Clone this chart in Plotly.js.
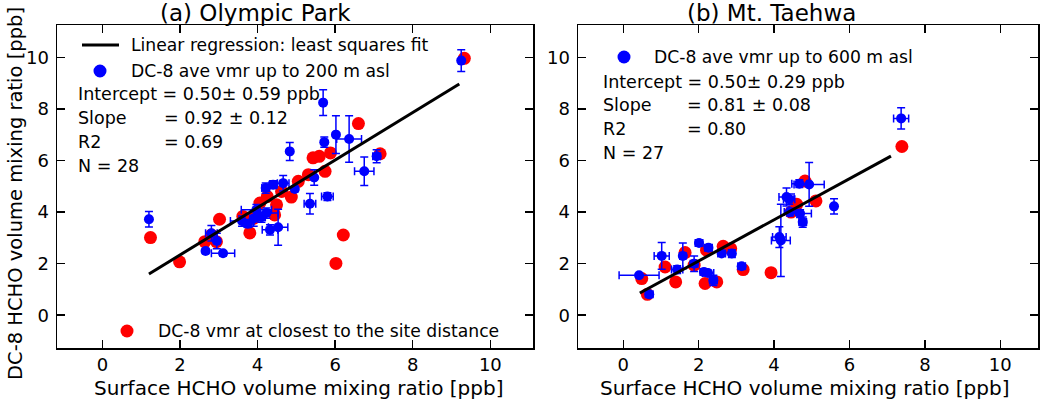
<!DOCTYPE html>
<html>
<head>
<meta charset="utf-8">
<script src="https://cdn.plot.ly/plotly-3.0.1.min.js"></script>
<style>html,body{margin:0;padding:0;background:#fff;}#chart{width:1050px;height:400px;}</style>
</head>
<body>
<div id="chart"></div>
<script>
// ---------- (a) Olympic Park ----------
const redX_a = [1.24, 1.99, 2.64, 2.81, 2.94, 3.02, 3.62, 3.80, 3.90, 4.06, 4.44, 4.49, 4.62, 4.87, 5.05, 5.31, 5.43, 5.59, 5.74, 5.88, 6.60, 7.16, 6.21, 6.02, 9.33, 4.25];
const redY_a = [3.01, 2.07, 2.85, 3.11, 2.85, 3.72, 3.83, 3.19, 3.75, 4.35, 3.89, 4.28, 4.80, 4.58, 5.19, 5.45, 6.10, 6.16, 5.58, 6.29, 7.43, 6.26, 3.11, 2.01, 9.96, 4.60];

const blueX_a  = [1.20, 2.66, 2.81, 2.95, 3.11, 3.60, 3.75, 3.90, 3.97, 4.23, 4.32, 4.53, 4.21, 4.40, 4.66, 4.96, 5.35, 5.46, 5.80, 4.83, 5.72, 6.02, 6.36, 5.69, 6.75, 7.07, 9.25, 4.10];
const blueY_a  = [3.72, 2.49, 3.18, 2.88, 2.40, 3.65, 3.55, 3.75, 4.09, 3.96, 3.31, 3.41, 4.93, 5.06, 5.12, 4.89, 4.32, 5.34, 4.60, 6.35, 6.71, 7.00, 6.83, 8.24, 5.58, 6.16, 9.87, 3.80];
const blueEx_a = [0.05, 0.05, 0.15, 0.05, 0.30, 0.30, 0.10, 0.10, 0.39, 0.30, 0.20, 0.25, 0.10, 0.10, 0.15, 0.05, 0.15, 0.05, 0.15, 0.05, 0.05, 0.05, 0.32, 0.05, 0.25, 0.10, 0.05, 0.10];
const blueEy_a = [0.30, 0.10, 0.30, 0.30, 0.10, 0.20, 0.15, 0.30, 0.20, 0.20, 0.20, 0.70, 0.20, 0.15, 0.30, 0.10, 0.40, 0.30, 0.15, 0.35, 0.20, 0.73, 0.90, 0.50, 0.55, 0.25, 0.42, 0.20];

const fitX_a = [1.2, 9.2];
const fitY_a = [1.60, 8.96];

// ---------- (b) Mt. Taehwa ----------
const redX_b = [0.49, 0.64, 1.11, 1.39, 1.64, 1.88, 2.17, 2.21, 2.48, 2.65, 2.85, 3.18, 3.92, 4.60, 4.82, 5.11, 7.39, 4.45];
const redY_b = [1.42, 0.81, 1.87, 1.29, 2.43, 1.94, 1.23, 2.52, 1.29, 2.67, 2.58, 1.77, 1.65, 4.30, 5.20, 4.43, 6.54, 4.00];

const blueX_b  = [0.42, 0.69, 1.02, 1.43, 1.58, 1.88, 2.01, 2.14, 2.26, 2.25, 2.39, 2.61, 2.88, 3.14, 4.14, 4.18, 4.33, 4.42, 4.67, 4.69, 4.76, 4.93, 5.59, 7.37, 4.40];
const blueY_b  = [1.55, 0.81, 2.30, 1.77, 2.30, 2.00, 2.80, 1.68, 2.62, 1.64, 1.35, 2.39, 2.39, 1.90, 3.03, 2.90, 4.58, 4.00, 5.10, 3.94, 3.61, 5.07, 4.22, 7.63, 4.50];
const blueEx_b = [0.53, 0.10, 0.20, 0.15, 0.08, 0.10, 0.10, 0.10, 0.10, 0.15, 0.10, 0.10, 0.08, 0.10, 0.18, 0.25, 0.20, 0.15, 0.20, 0.30, 0.10, 0.40, 0.05, 0.20, 0.15];
const blueEy_b = [0.05, 0.05, 0.52, 0.15, 0.50, 0.30, 0.10, 0.10, 0.10, 0.10, 0.20, 0.10, 0.15, 0.10, 0.40, 1.40, 0.35, 0.15, 0.15, 0.15, 0.20, 0.85, 0.30, 0.41, 0.20];

const fitX_b = [0.44, 7.1];
const fitY_b = [0.86, 6.17];

const xTicks = [0, 2, 4, 6, 8, 10];
const yTicks = [0, 2, 4, 6, 8, 10];

const titleA = "(a) Olympic Park";
const titleB = "(b) Mt. Taehwa";
const xTitle = "Surface HCHO volume mixing ratio [ppb]";
const yTitle = "DC-8 HCHO volume mixing ratio [ppb]";
const legLine = "Linear regression: least squares fit";
const legBlueA = "DC-8 ave vmr up to 200 m asl";
const legBlueB = "DC-8 ave vmr up to 600 m asl";
const legRed = "DC-8 vmr at closest to the site distance";
const statsA = [["Intercept = 0.50\u00b1 0.59 ppb", ""], ["Slope", "= 0.92 \u00b1 0.12"], ["R2", "= 0.69"], ["N = 28", ""]];
const statsB = [["Intercept = 0.50\u00b1 0.29 ppb", ""], ["Slope", "= 0.81 \u00b1 0.08"], ["R2", "= 0.80"], ["N = 27", ""]];

// ---------- layout helpers (pixel -> paper) ----------
const W = 1050, H = 400, ML = 57, MR = 12, MT = 25, MB = 52;
const PW = W - ML - MR, PH = H - MT - MB;
const px = v => (v - ML) / PW;
const py = v => (H - MB - v) / PH;
const FONT = "DejaVu Sans, Verdana, sans-serif";
const BLUE = "#0000ff", RED = "#ff0000";

function redTrace(x, y, xa, ya) {
  return {x, y, xaxis: xa, yaxis: ya, type: "scatter", mode: "markers", showlegend: false,
    marker: {color: RED, size: 13, line: {width: 0}}};
}
function blueTrace(x, y, ex, ey, xa, ya) {
  return {x, y, xaxis: xa, yaxis: ya, type: "scatter", mode: "markers", showlegend: false,
    marker: {color: BLUE, size: 10, line: {width: 0}},
    error_x: {type: "data", array: ex, visible: true, color: BLUE, thickness: 1.5, width: 4},
    error_y: {type: "data", array: ey, visible: true, color: BLUE, thickness: 1.5, width: 4}};
}
function fitTrace(x, y, xa, ya) {
  return {x, y, xaxis: xa, yaxis: ya, type: "scatter", mode: "lines", showlegend: false,
    line: {color: "#000", width: 3}};
}

const data = [
  redTrace(redX_a, redY_a, "x", "y"),
  blueTrace(blueX_a, blueY_a, blueEx_a, blueEy_a, "x", "y"),
  fitTrace(fitX_a, fitY_a, "x", "y"),
  redTrace(redX_b, redY_b, "x2", "y2"),
  blueTrace(blueX_b, blueY_b, blueEx_b, blueEy_b, "x2", "y2"),
  fitTrace(fitX_b, fitY_b, "x2", "y2")
];

function axisBase(extra) {
  return Object.assign({
    showline: true, mirror: "ticks", linecolor: "#000", linewidth: 1.5,
    ticks: "inside", ticklen: 8, tickwidth: 1.5, tickcolor: "#000",
    showgrid: false, zeroline: false,
    tickfont: {family: FONT, size: 18, color: "#000"}
  }, extra);
}

const annotations = [];
const shapes = [];
function ann(text, x, y, xanchor, size, angle) {
  annotations.push({text, xref: "paper", yref: "paper", x: px(x), y: py(y), xanchor: xanchor || "left", yanchor: "middle",
    textangle: angle || 0,
    showarrow: false, font: {family: FONT, size: size || 17.5, color: "#000"}});
}
function dot(cx, cy, color, d) {
  shapes.push({type: "circle", xref: "paper", yref: "paper", xsizemode: "pixel", ysizemode: "pixel",
    xanchor: px(cx), yanchor: py(cy), x0: -d / 2, x1: d / 2, y0: -d / 2, y1: d / 2,
    fillcolor: color, line: {width: 0}});
}

// titles
ann(titleA, 255, 13, "center", 23);
ann(titleB, 771, 13, "center", 23);
// axis titles
ann(xTitle, 298, 388, "center", 20);
ann(xTitle, 804, 388, "center", 20);
ann(yTitle, 15, 194, "center", 19.5, -90);

// legend (a)
shapes.push({type: "line", xref: "paper", yref: "paper", x0: px(82), x1: px(119), y0: py(45), y1: py(45), line: {color: "#000", width: 3}});
ann(legLine, 129, 45, "left", 17.2);
dot(100, 71, BLUE, 13);
ann(legBlueA, 129, 71, "left", 17.2);
dot(127, 331, RED, 13);
ann(legRed, 156, 331, "left", 17.2);
// stats (a)
const rowsA = [94, 118, 142, 166];
statsA.forEach((r, i) => { ann(r[0], 76, rowsA[i]); if (r[1]) ann(r[1], 162, rowsA[i]); });

// legend (b)
dot(624, 57, BLUE, 13);
ann(legBlueB, 652, 57, "left", 17.2);
const rowsB = [82, 105, 129, 153];
statsB.forEach((r, i) => { ann(r[0], 601, rowsB[i]); if (r[1]) ann(r[1], 685, rowsB[i]); });

const layout = {
  width: W, height: H, paper_bgcolor: "#fff", plot_bgcolor: "#fff",
  margin: {l: ML, r: MR, t: MT, b: MB, pad: 0},
  font: {family: FONT, color: "#000"},
  showlegend: false,
  xaxis: axisBase({domain: [0, px(533)], range: [-1.17, 11.1], tickvals: xTicks, ticklabelstandoff: 0}),
  yaxis: axisBase({domain: [0, 1], range: [-1.27, 11.25], tickvals: yTicks, ticklabelstandoff: 3}),
  xaxis2: axisBase({domain: [px(578), 1], range: [-1.2, 11.0], tickvals: xTicks, ticklabelstandoff: 0, anchor: "y2"}),
  yaxis2: axisBase({domain: [0, 1], range: [-1.27, 11.25], tickvals: yTicks, ticklabelstandoff: 3, anchor: "x2"}),
  annotations, shapes
};

Plotly.newPlot("chart", data, layout, {staticPlot: true, displayModeBar: false});
</script>
</body>
</html>
